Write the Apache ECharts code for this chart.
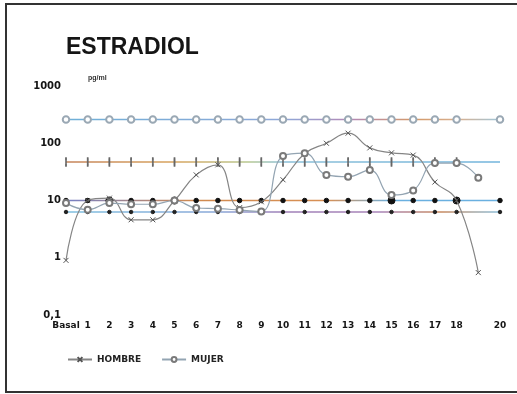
<!DOCTYPE html>
<html>
<head>
<meta charset="utf-8">
<script src="https://cdn.jsdelivr.net/npm/echarts@6/dist/echarts.min.js"></script>
<style>
  html, body { margin: 0; padding: 0; background: #fff; }
  #chart { width: 517px; height: 394px; }
</style>
</head>
<body>
<div id="chart"></div>
<script>
// Sampling days along the x axis (day 19 is sampled but left unlabelled)
const days = ['Basal', '1', '2', '3', '4', '5', '6', '7', '8', '9', '10',
              '11', '12', '13', '14', '15', '16', '17', '18', '19', '20'];

// Tick values of the logarithmic y axis (pg/ml)
const yTicks = [0.1, 1, 10, 100, 1000];

// Estradiol, mean values per day (pg/ml)
const hombre = [0.9, 10, 11, 4.6, 4.6, 10, 28, 42, 7.5, 9.5, 23,
                66, 100, 150, 83, 68, 62, 21, 10, 0.55, null];
const mujer  = [9, 6.9, 9, 8.6, 8.6, 10, 7.4, 7.2, 6.8, 6.4, 60,
                67, 28, 26, 34, 12.5, 15, 45, 45, 25, null];

// Reference levels drawn across the whole period
const refHigh  = [260, 260, 260, 260, 260, 260, 260, 260, 260, 260, 260,
                  260, 260, 260, 260, 260, 260, 260, 260, 260, 260];
const refMid   = [47, 47, 47, 47, 47, 47, 47, 47, 47, 47, 47,
                  47, 47, 47, 47, 47, 47, 47, 47, 47, 47];
const refTen   = [10, 10, 10, 10, 10, 10, 10, 10, 10, 10, 10,
                  10, 10, 10, 10, 10, 10, 10, 10, 10, 10];
const refLow   = [6.3, 6.3, 6.3, 6.3, 6.3, 6.3, 6.3, 6.3, 6.3, 6.3, 6.3,
                  6.3, 6.3, 6.3, 6.3, 6.3, 6.3, 6.3, 6.3, 6.3, 6.3];

const chart = echarts.init(document.getElementById('chart'), null, { renderer: 'canvas' });

const grad = (stops) => new echarts.graphic.LinearGradient(0, 0, 1, 0,
  stops.map(([offset, color]) => ({ offset, color })));

const UNMARKED = 19;          // day without a printed marker on the reference levels
const bigDots = [2, 5, 15, 18];

function refSeries(name, data, lineColor, symbol, size, symbolColor, opts) {
  return Object.assign({
    name: name,
    type: 'line',
    data: data,
    silent: true,
    z: 1,
    symbol: symbol,
    symbolSize: size,
    showSymbol: true,
    itemStyle: { color: symbolColor, borderColor: symbolColor },
    lineStyle: { color: lineColor, width: 1.6 },
    animation: false
  }, opts || {});
}

const xSymbol = 'path://M0,0L10,10M10,0L0,10';

chart.setOption({
  backgroundColor: '#ffffff',
  animation: false,
  title: {
    text: 'ESTRADIOL',
    left: 61,
    top: 31,
    textStyle: { fontFamily: 'Liberation Sans', fontSize: 23, fontWeight: 'bold', color: '#151515' }
  },
  graphic: [
    { type: 'rect', shape: { x: 6, y: 4, width: 520, height: 388 },
      style: { fill: 'none', stroke: '#333', lineWidth: 2 }, silent: true },
    { type: 'text', left: 88, top: 75,
      style: { text: 'pg/ml', font: 'bold 7px "Liberation Sans"', fill: '#333' } }
  ],
  legend: {
    left: 62,
    top: 350,
    itemWidth: 24,
    itemHeight: 6,
    itemGap: 20,
    data: ['HOMBRE', 'MUJER'],
    textStyle: { fontFamily: 'DejaVu Sans', fontSize: 9, fontWeight: 'bold', color: '#222' }
  },
  grid: { left: 66, right: 17, top: 86, bottom: 79 },
  xAxis: {
    type: 'category',
    data: days,
    boundaryGap: false,
    axisLine: { show: false },
    axisTick: { show: false },
    splitLine: { show: false },
    axisLabel: {
      interval: 0,
      margin: 6,
      fontFamily: 'DejaVu Sans',
      fontSize: 9,
      fontWeight: 'bold',
      color: '#151515',
      formatter: (v) => (v === '19' ? '' : v)
    }
  },
  yAxis: {
    type: 'log',
    logBase: 10,
    min: yTicks[0],
    max: yTicks[yTicks.length - 1],
    axisLine: { show: false },
    axisTick: { show: false },
    splitLine: { show: false },
    axisLabel: {
      margin: 5,
      fontFamily: 'DejaVu Sans',
      fontSize: 10,
      fontWeight: 'bold',
      color: '#151515',
      formatter: (v) => String(v).replace('.', ',')
    }
  },
  series: [
    refSeries('refHigh', refHigh,
      grad([[0, '#6fb0d8'], [0.5, '#8fa8d8'], [0.65, '#b28ab8'], [0.8, '#d49a6a'], [0.9, '#d8b090'], [1, '#9cc8e0']]),
      (v, p) => (p.dataIndex === UNMARKED ? 'none' : 'emptyCircle'), 6.5, '#9aa8b4',
      { itemStyle: { color: '#9aa8b4', borderWidth: 1 } }),
    refSeries('refMid', refMid,
      grad([[0, '#c5835a'], [0.25, '#d8a45e'], [0.42, '#b8c890'], [0.5, '#8cc0d8'], [1, '#72b4dc']]),
      (v, p) => (p.dataIndex >= UNMARKED ? 'none' : 'rect'), [1.3, 7], '#666'),
    refSeries('refTen', refTen,
      grad([[0, '#7480c8'], [0.3, '#d08a50'], [0.6, '#d89055'], [0.75, '#6ab0e0'], [1, '#6ab0e0']]),
      (v, p) => (p.dataIndex === UNMARKED ? 'none' : 'circle'),
      (v, p) => (bigDots.indexOf(p.dataIndex) >= 0 ? 7 : 4.5), '#111'),
    refSeries('refLow', refLow,
      grad([[0, '#80c0e0'], [0.35, '#8aa8d8'], [0.5, '#a080b8'], [0.72, '#a884b8'], [0.86, '#c88a60'], [1, '#88c0e0']]),
      (v, p) => (p.dataIndex === UNMARKED ? 'none' : 'circle'), 3.5, '#222'),
    {
      name: 'HOMBRE',
      type: 'line',
      data: hombre,
      smooth: 0.45,
      z: 3,
      symbol: xSymbol,
      symbolSize: 5,
      itemStyle: { color: '#555', borderColor: '#555', borderWidth: 1 },
      lineStyle: { color: '#858585', width: 1.2 }
    },
    {
      name: 'MUJER',
      type: 'line',
      data: mujer,
      smooth: 0.45,
      z: 3,
      symbol: 'emptyCircle',
      symbolSize: 6,
      itemStyle: { color: '#7a7a7a', borderWidth: 1 },
      lineStyle: { color: '#93a4b2', width: 1.2 }
    }
  ]
});
</script>
</body>
</html>
